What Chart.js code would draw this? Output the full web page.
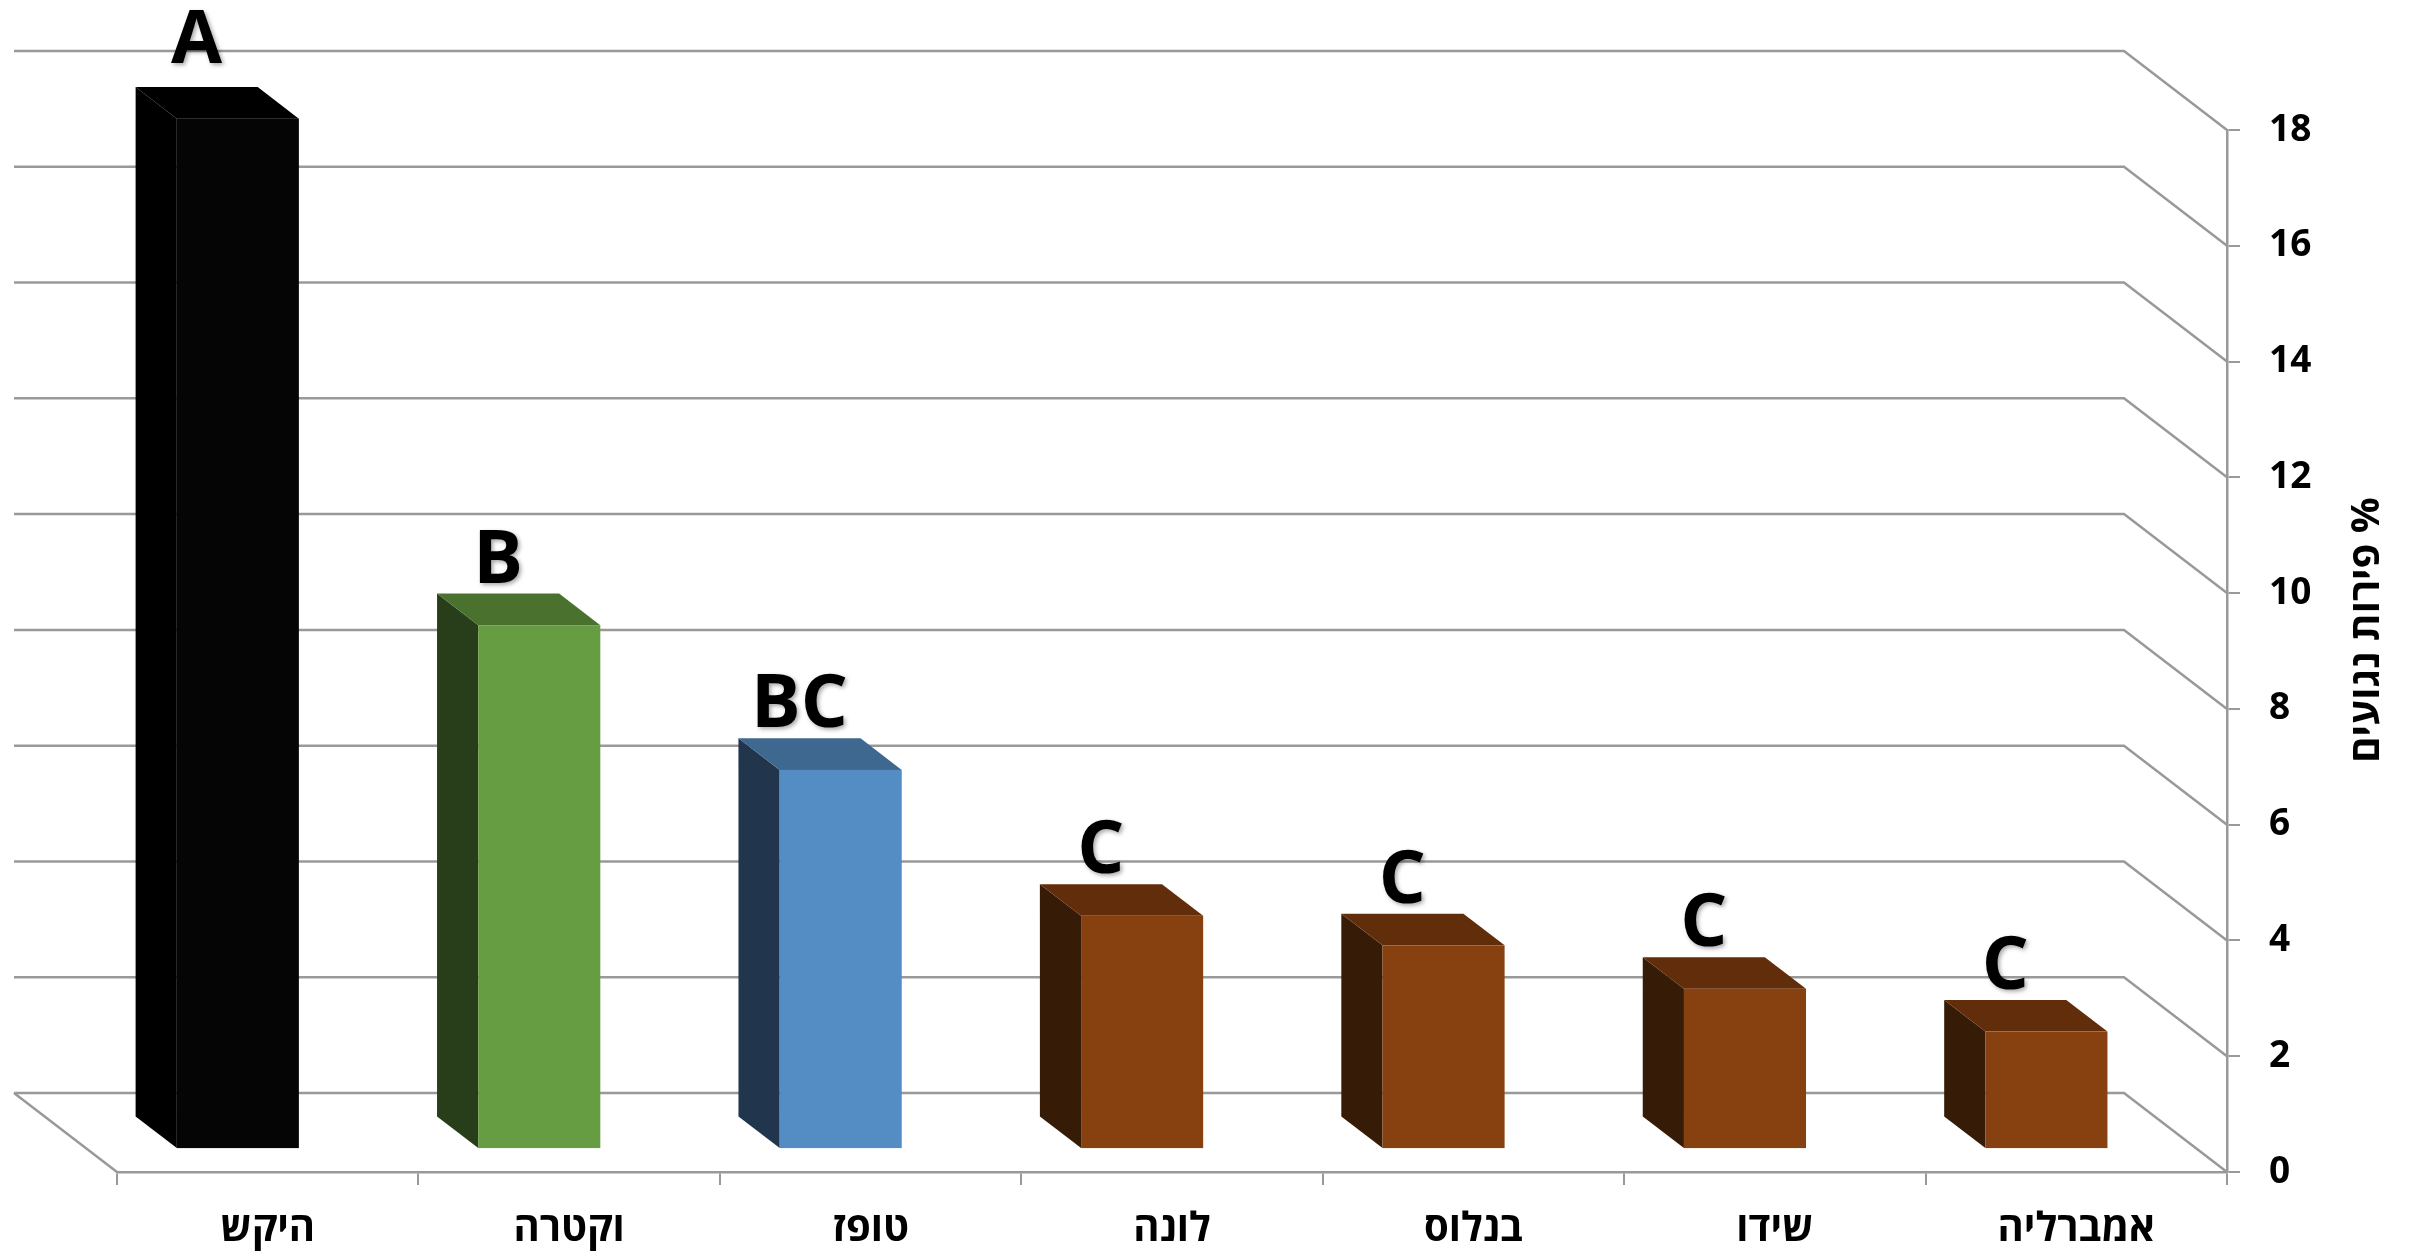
<!DOCTYPE html>
<html lang="he">
<head>
<meta charset="utf-8">
<script src="https://cdn.jsdelivr.net/npm/chart.js@4.4.1/dist/chart.umd.min.js"></script>
<style>
  html, body { margin: 0; padding: 0; background: #fff; }
  #wrap { width: 2418px; height: 1253px; }
</style>
</head>
<body>
<div id="wrap"><canvas id="chart" width="2418" height="1253"></canvas></div>
<script>
// data
const categories = ['היקש', 'וקטרה', 'טופז', 'לונה', 'בנלוס', 'שידו', 'אמברליה'];
const infected = [17.8, 9.05, 6.55, 4.03, 3.52, 2.77, 2.03];
const groups = ['A', 'B', 'BC', 'C', 'C', 'C', 'C'];
const yTicks = [0, 2, 4, 6, 8, 10, 12, 14, 16, 18];
const axisTitle = '% פירות נגועים';

// colours per bar: front / left side / top
const frontColors = ['#050505', '#679d42', '#548dc4', '#874111', '#874111', '#874111', '#874111'];
const sideColors  = ['#000000', '#283d1a', '#21364d', '#361b07', '#361b07', '#361b07', '#361b07'];
const topColors   = ['#000000', '#4a722e', '#3e6890', '#622d0a', '#622d0a', '#622d0a', '#622d0a'];

const GRID = '#999999';
const FONT = '"Open Sans", "DejaVu Sans", sans-serif';

// 3d depth of the plot (back wall offset) and where the bars sit inside it
const DX = 103, DY = 79;
const BAR_FRONT = 0.29, BAR_BACK = 0.69;

const wall3d = {
    id: 'wall3d',
    beforeDatasetsDraw(chart) {
        const { ctx, chartArea: a, scales: { y } } = chart;
        ctx.save();
        ctx.strokeStyle = GRID;
        ctx.lineWidth = 2.5;
        // back wall gridlines + side wall diagonals
        yTicks.forEach(v => {
            const py = y.getPixelForValue(v);
            ctx.beginPath();
            ctx.moveTo(a.left - DX, py - DY);
            ctx.lineTo(a.right - DX, py - DY);
            ctx.lineTo(a.right, py);
            ctx.stroke();
        });
        // floor left edge
        const p0 = y.getPixelForValue(0);
        ctx.beginPath();
        ctx.moveTo(a.left - DX, p0 - DY);
        ctx.lineTo(a.left, p0);
        ctx.stroke();
        ctx.restore();
    },
    afterDatasetsDraw(chart) {
        const { ctx } = chart;
        const meta = chart.getDatasetMeta(0);
        const bx = (BAR_BACK - BAR_FRONT) * DX;
        const by = (BAR_BACK - BAR_FRONT) * DY;
        ctx.save();
        meta.data.forEach((el, i) => {
            const left = el.x - el.width / 2 - BAR_FRONT * DX;
            const right = el.x + el.width / 2 - BAR_FRONT * DX;
            const top = el.y - BAR_FRONT * DY;
            const bottom = el.base - BAR_FRONT * DY;

            // left side
            ctx.fillStyle = sideColors[i];
            ctx.beginPath();
            ctx.moveTo(left, bottom);
            ctx.lineTo(left, top);
            ctx.lineTo(left - bx, top - by);
            ctx.lineTo(left - bx, bottom - by);
            ctx.closePath();
            ctx.fill();

            // top
            ctx.fillStyle = topColors[i];
            ctx.beginPath();
            ctx.moveTo(left, top);
            ctx.lineTo(right, top);
            ctx.lineTo(right - bx, top - by);
            ctx.lineTo(left - bx, top - by);
            ctx.closePath();
            ctx.fill();

            // front
            ctx.fillStyle = frontColors[i];
            ctx.fillRect(left, top, right - left, bottom - top);

            // group letter
            ctx.save();
            ctx.font = 'bold 74px ' + FONT;
            ctx.fillStyle = '#000';
            ctx.textAlign = 'center';
            ctx.textBaseline = 'alphabetic';
            ctx.shadowColor = 'rgba(0,0,0,0.35)';
            ctx.shadowBlur = 4;
            ctx.shadowOffsetX = 2;
            ctx.shadowOffsetY = 2;
            // the tallest bar's letter sits a bit higher, like in the original
            const gap = i === 0 ? 24 : 11;
            ctx.fillText(groups[i], el.x - BAR_BACK * DX, el.y - BAR_BACK * DY - gap);
            ctx.restore();
        });
        ctx.restore();
    },
    afterDraw(chart) {
        const { ctx, chartArea: a } = chart;
        ctx.save();
        ctx.translate(a.right + 141, (a.top + a.bottom) / 2 - 21);
        ctx.rotate(-Math.PI / 2);
        ctx.direction = 'rtl';
        ctx.font = 'bold 40px ' + FONT;
        ctx.fillStyle = '#000';
        ctx.textAlign = 'center';
        ctx.textBaseline = 'middle';
        ctx.fillText(axisTitle, 0, 0);
        ctx.restore();
    }
};

new Chart(document.getElementById('chart'), {
    type: 'bar',
    data: {
        labels: categories,
        datasets: [{
            data: infected,
            backgroundColor: 'rgba(0,0,0,0)',
            barPercentage: 0.405,
            categoryPercentage: 1
        }]
    },
    options: {
        responsive: false,
        animation: false,
        layout: { padding: { left: 117, top: 130, right: 0, bottom: 0 } },
        plugins: {
            legend: { display: false },
            tooltip: { enabled: false }
        },
        scales: {
            x: {
                offset: true,
                grid: { offset: true, drawOnChartArea: false, tickLength: 13, color: GRID, lineWidth: 2 },
                border: { color: GRID, width: 2.5 },
                ticks: {
                    color: '#000',
                    font: { family: FONT, size: 40, weight: 'bold' },
                    padding: 21,
                    maxRotation: 0
                },
                afterFit(s) { s.height = 81; }
            },
            y: {
                position: 'right',
                min: 0,
                max: 18,
                afterBuildTicks(s) { s.ticks = yTicks.map(v => ({ value: v })); },
                grid: { drawOnChartArea: false, tickLength: 13, color: GRID, lineWidth: 2 },
                border: { color: GRID, width: 2.5 },
                ticks: {
                    color: '#000',
                    font: { family: FONT, size: 37, weight: 'bold' },
                    padding: 29
                },
                afterFit(s) { s.width = 191; }
            }
        }
    },
    plugins: [wall3d]
});
</script>
</body>
</html>
